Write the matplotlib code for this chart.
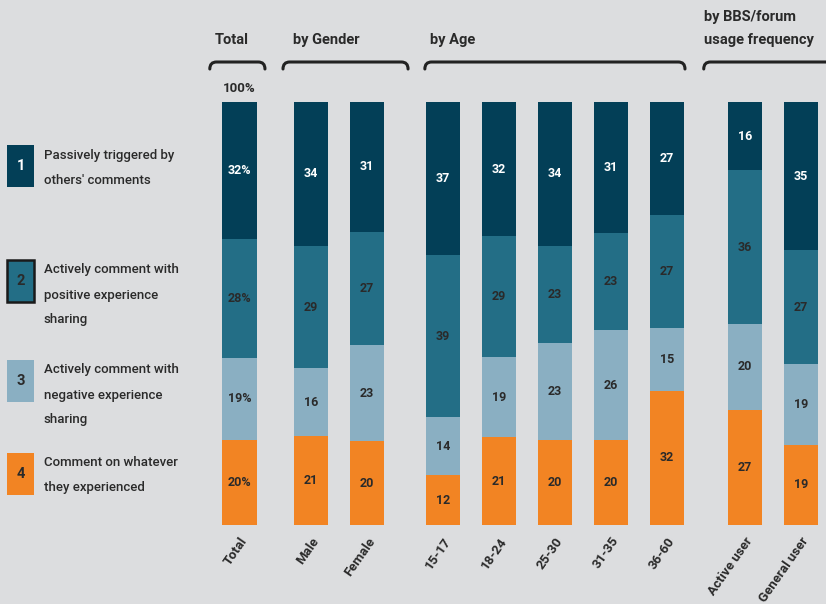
import numpy as np
import matplotlib.pyplot as plt
from matplotlib.path import Path
from matplotlib.patches import PathPatch, Rectangle
import matplotlib.transforms as mtransforms

plt.rcParams['font.family'] = ['Roboto', 'DejaVu Sans']

categories = ["Total", "Male", "Female", "15-17", "18-24", "25-30", "31-35", "36-60",
              "Active user", "General user"]
group_sizes = [1, 2, 5, 2]
group_titles = ["Total", "by Gender", "by Age", "by BBS/forum\nusage frequency"]

passive = [32, 34, 31, 37, 32, 34, 31, 27, 16, 35]
positive = [28, 29, 27, 39, 29, 23, 23, 27, 36, 27]
negative = [19, 16, 23, 14, 19, 23, 26, 15, 20, 19]
whatever = [20, 21, 20, 12, 21, 20, 20, 32, 27, 19]

legend_labels = [
    ["Passively triggered by", "others' comments"],
    ["Actively comment with", "positive experience", "sharing"],
    ["Actively comment with", "negative experience", "sharing"],
    ["Comment on whatever", "they experienced"],
]

BG = "#dcdddf"
NAVY = "#033f57"
TEAL = "#236e86"
LIGHT = "#8aafc2"
ORANGE = "#f28423"
DARK = "#2a2a2a"

W, H = 826, 604
fig = plt.figure(figsize=(W / 100, H / 100), dpi=100, facecolor=BG)

def fx(px):
    return px / W

def fy(py):
    return 1 - py / H

ax = fig.add_axes([fx(200), fy(525), fx(826) - fx(200), fy(102) - fy(525)])
ax.set_facecolor(BG)

# bar positions: unit spacing inside a group, wider gaps between groups
gaps = [1.28, 1.35, 1.39]
pos = []
x = 0.0
for g, n in enumerate(group_sizes):
    if g > 0:
        x += gaps[g - 1] - 1
    for i in range(n):
        pos.append(x)
        x += 1
pos = np.array(pos)

series = [whatever, negative, positive, passive]  # bottom to top
colors = [ORANGE, LIGHT, TEAL, NAVY]
data = np.array(series, dtype=float)
totals = data.sum(axis=0)
scaled = data / totals * 100

bottom = np.zeros(len(categories))
for k, (vals, col) in enumerate(zip(scaled, colors)):
    ax.bar(pos, vals, bottom=bottom, width=0.61, color=col, linewidth=0)
    for j in range(len(categories)):
        txt = f"{series[k][j]}%" if j == 0 else f"{series[k][j]}"
        ax.text(pos[j], bottom[j] + vals[j] / 2, txt, ha='center', va='center',
                fontsize=9, fontweight='bold',
                color='white' if col == NAVY else DARK)
    bottom += vals

ax.set_xlim(-0.705, 10.473)
ax.set_ylim(0, 100)
for s in ax.spines.values():
    s.set_visible(False)
ax.set_yticks([])
ax.set_xticks(pos)
ax.set_xticklabels(categories, rotation=55, ha='right', rotation_mode='anchor',
                   fontsize=9.5, fontweight='bold', color=DARK)
ax.tick_params(axis='x', length=0, pad=7)

# group headers and rounded brackets
bt = mtransforms.blended_transform_factory(ax.transData, fig.transFigure)
fig.text(pos[0], fy(88), "100%", transform=bt, ha='center', va='center',
         fontsize=9.5, fontweight='bold', color=DARK)

spans = [(-0.53, 0.455), (0.777, 3.01), (3.31, 7.955), (8.29, 10.7)]
title_x = [-0.44, 0.95, 3.41, 8.29]
codes = [Path.MOVETO, Path.CURVE3, Path.CURVE3, Path.LINETO, Path.CURVE3, Path.CURVE3]
for (x0, x1), tx, title in zip(spans, title_x, group_titles):
    r = 0.12
    top, low = fy(62), fy(69)
    verts = [(x0, low), (x0, top), (x0 + r, top), (x1 - r, top), (x1, top), (x1, low)]
    fig.add_artist(PathPatch(Path(verts, codes), transform=bt, fill=False,
                             edgecolor="#222222", linewidth=2.2, capstyle='round',
                             clip_on=False))
    lines = title.split("\n")
    for i, line in enumerate(lines):
        fig.text(tx, fy(40 - 23 * (len(lines) - 1 - i)), line, transform=bt,
                 ha='left', va='center', fontsize=10.5, fontweight='bold', color=DARK)

# legend on the left
legend_cy = [166, 281, 381, 474]
for n, (cy, lines, col) in enumerate(zip(legend_cy, legend_labels, colors[::-1])):
    edge = "#1a1a1a" if n == 1 else "none"
    fig.add_artist(Rectangle((fx(7), fy(cy + 21)), fx(27), fy(0) - fy(42),
                             facecolor=col, edgecolor=edge, linewidth=1.8))
    fig.text(fx(20.5), fy(cy), str(n + 1), ha='center', va='center', fontsize=10.5,
             fontweight='bold', color='white' if col == NAVY else DARK)
    for i, line in enumerate(lines):
        fig.text(fx(44), fy(cy - 11 + i * 25), line, ha='left', va='center',
                 fontsize=9.5, fontweight='medium', color=DARK)

fig.savefig("out.png", dpi=100, facecolor=BG)
